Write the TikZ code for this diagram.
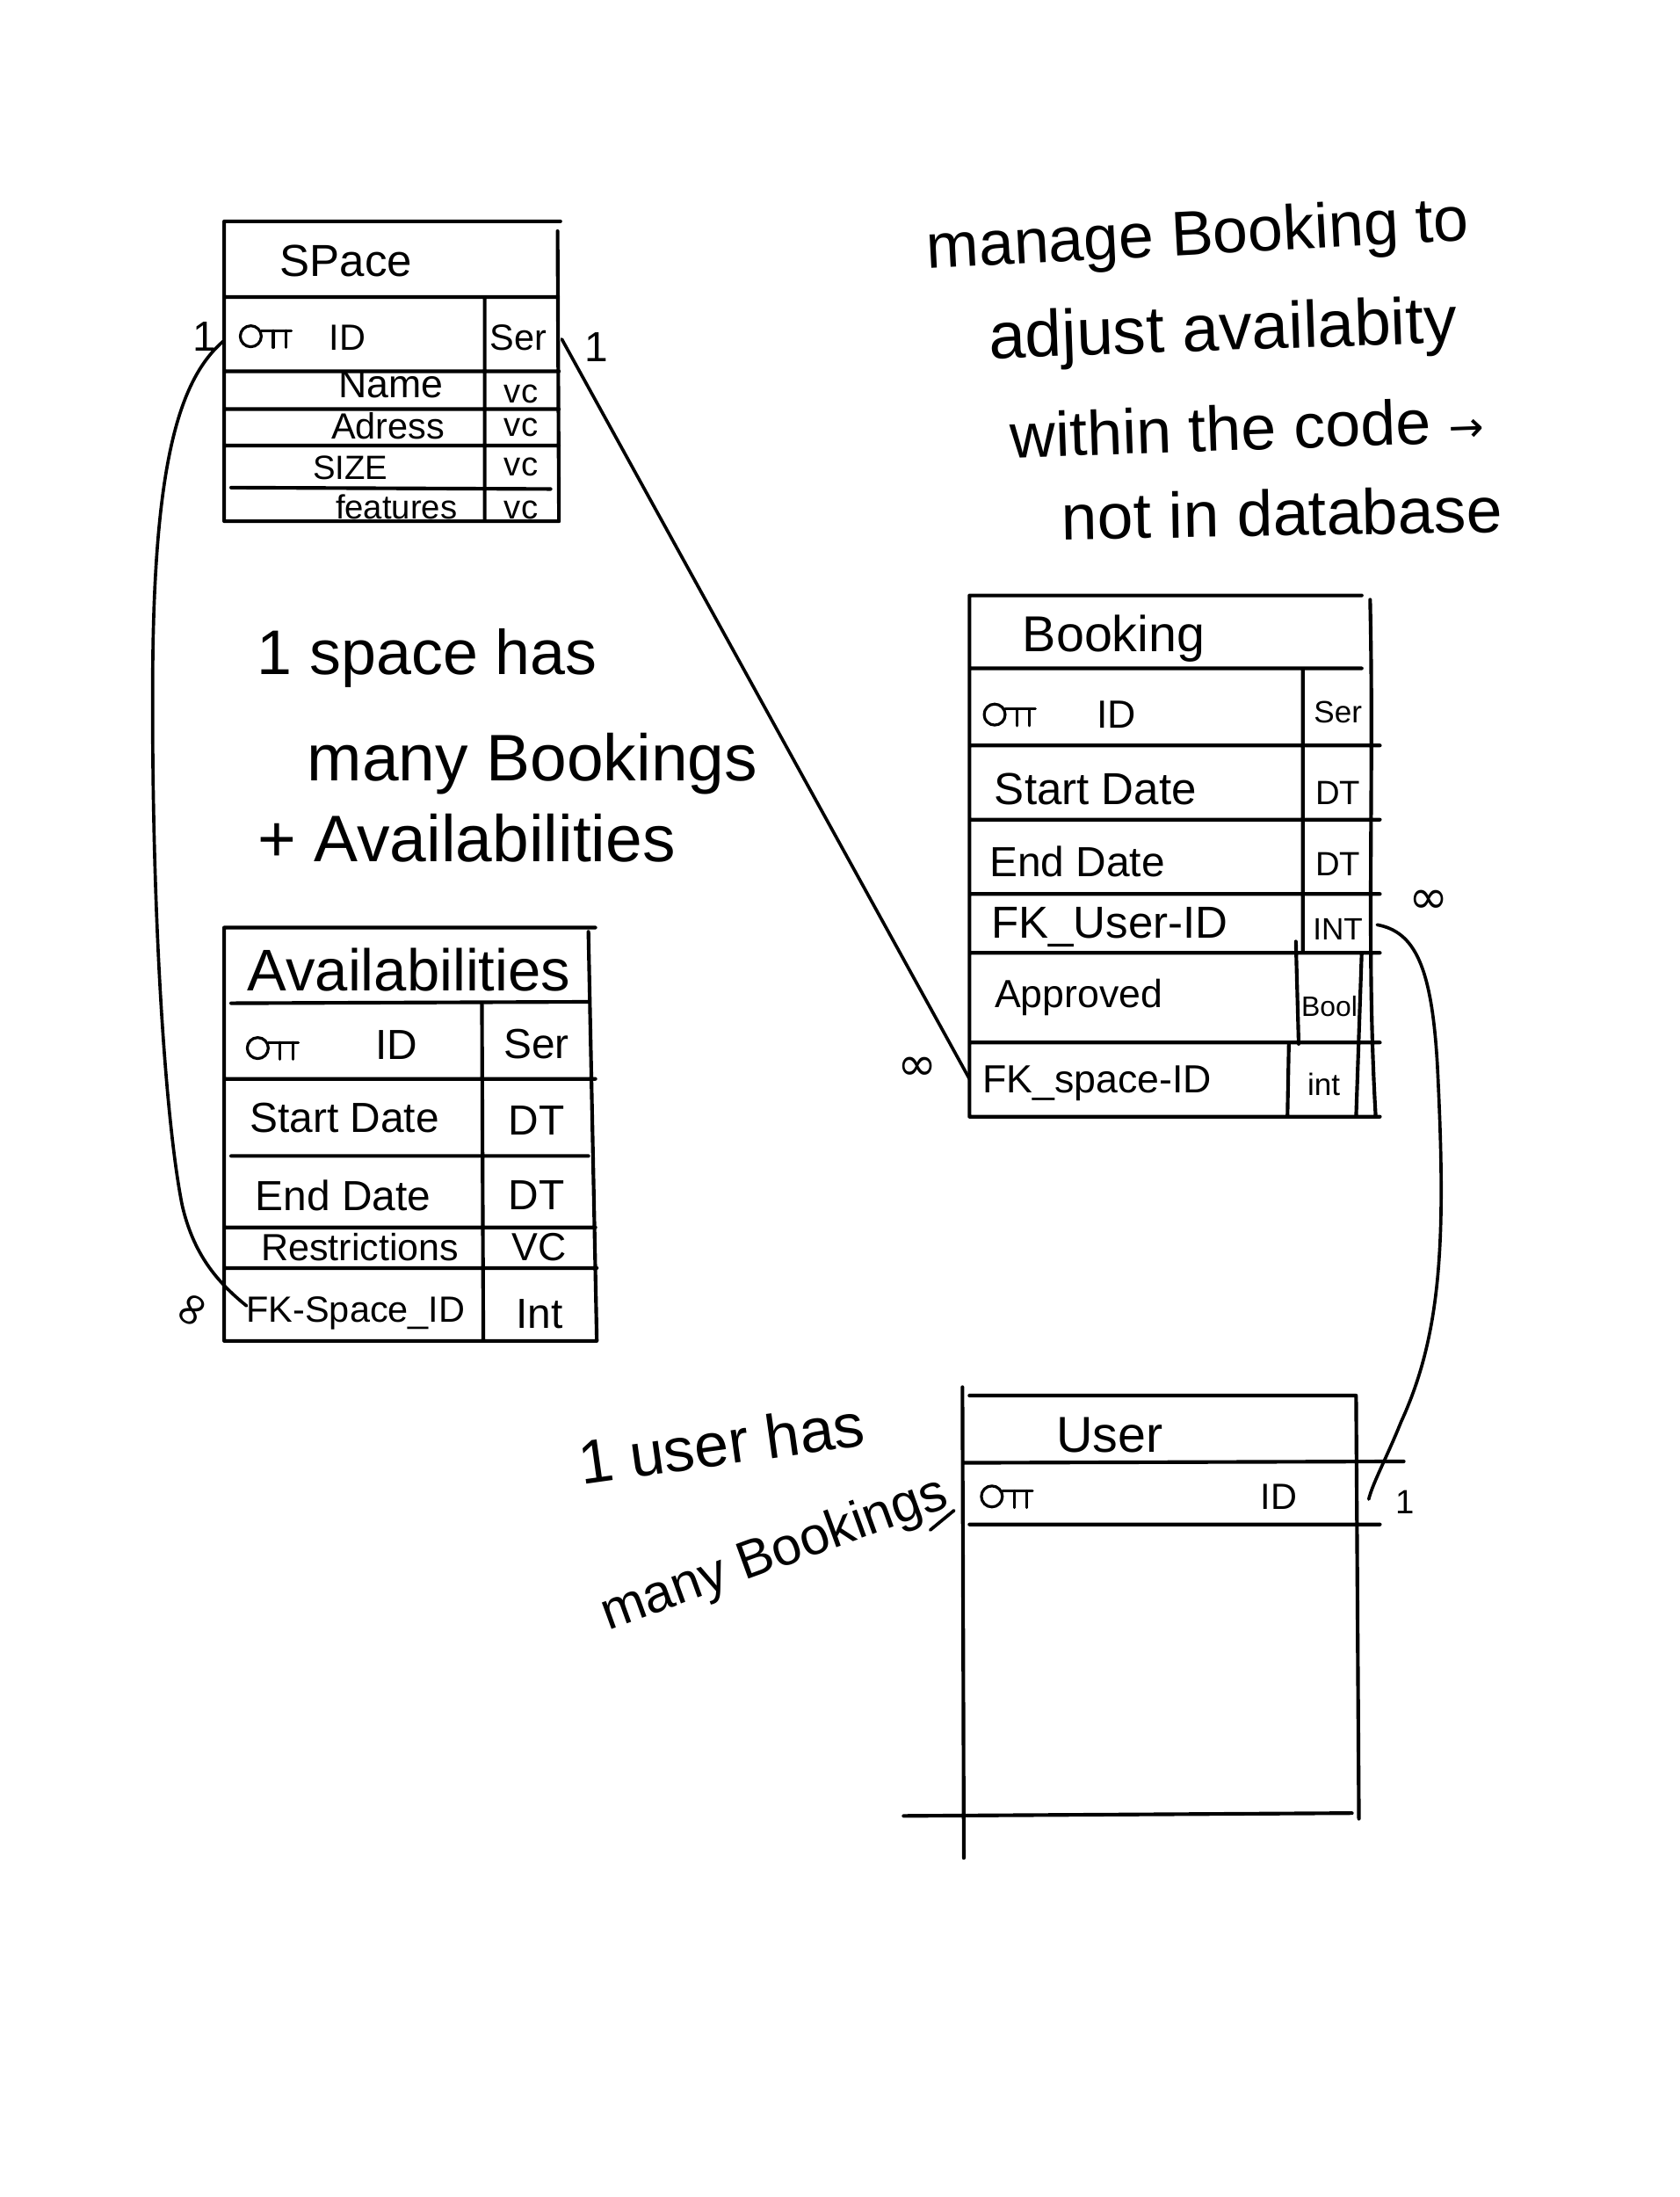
\documentclass[tikz,border=0pt]{standalone}
\usepackage{fontspec}
\setmainfont{Liberation Sans}
\newfontfamily\symfont{DejaVu Sans}
\newcommand\hfs[1]{\fontsize{#1}{#1}\selectfont}
\begin{document}
\begin{tikzpicture}[x=1pt,y=-1pt,line width=2.4pt,line cap=round,line join=round,
  grid/.style={line width=2.6pt},
  conn/.style={line width=2.3pt},
  txt/.style={inner sep=0pt,anchor=center},
  keyicon/.pic={\draw[line width=2pt] (0,0) circle[radius=7.5];
    \draw[line width=2pt] (7.5,-4)--(29,-4) (16,-4)--(16,8) (25,-4)--(25,8);}]
\useasboundingbox (0,0) rectangle (1199,1568);
\fill[white] (0,0) rectangle (1199,1568);

% ---------------- Space table ----------------
\draw[grid] (160,158)--(400,158) (160,158)--(160,372) (398,165)--(399,372)
  (160,212)--(398,212) (346,212)--(346,372)
  (160,265)--(399,265) (160,292)--(399,292) (160,318)--(399,318) (160,372)--(399,372)
  (165,348)--(393,349);
\node[txt] (spT) at (247,186) {\hfs{32}SPace};
\pic at (179,240) {keyicon};
\node[txt] (spID) at (248,241) {\hfs{26}ID};
\node[txt] (spIDt) at (370,241) {\hfs{26}Ser};
\node[txt] (spN) at (279,274) {\hfs{28}Name};
\node[txt] (spNt) at (372,281) {\hfs{24}vc};
\node[txt] (spA) at (277,304) {\hfs{26}Adress};
\node[txt] (spAt) at (372,305) {\hfs{24}vc};
\node[txt] (spS) at (250,334) {\hfs{24}SIZE};
\node[txt] (spSt) at (372,333) {\hfs{24}vc};
\node[txt] (spF) at (283,362) {\hfs{24}features};
\node[txt] (spFt) at (372,364) {\hfs{24}vc};
\node[txt] (l1) at (146,240) {\hfs{30}1};
\node[txt] (l2) at (426,248) {\hfs{30}1};
\coordinate (spL) at (160,243);
\coordinate (spR) at (401,242);

% ---------------- Booking table ----------------
\draw[grid] (692,425)--(972,425) (692,425)--(692,797)
  (978,428) .. controls (981,560) and (975,680) .. (982,797)
  (692,477)--(972,477) (930,477)--(930,680)
  (692,532)--(985,532) (692,585)--(985,585) (692,638)--(985,638)
  (692,680)--(985,680) (692,744)--(985,744) (692,797)--(985,797)
  (925,672)--(927,745) (920,745)--(919,797) (972,680)--(968,797);
\node[txt] (bkT) at (795,456) {\hfs{36}Booking};
\pic at (710,510) {keyicon};
\node[txt] (bkID) at (797,510) {\hfs{28}ID};
\node[txt] (bkIDt) at (955,508) {\hfs{22}Ser};
\node[txt] (bkS) at (782,563) {\hfs{32}Start Date};
\node[txt] (bkSt) at (955,566) {\hfs{24}DT};
\node[txt] (bkE) at (769,615) {\hfs{30}End Date};
\node[txt] (bkEt) at (955,617) {\hfs{24}DT};
\node[txt] (bkU) at (792,662) {\hfs{32}FK\_User-ID};
\node[txt] (bkUt) at (955,663) {\hfs{22}INT};
\node[txt] (bkAp) at (770,712) {\hfs{28}Approved};
\node[txt] (bkApt) at (949,718) {\hfs{20}Bool};
\node[txt] (bkSp) at (783,773) {\hfs{28}FK\_space-ID};
\node[txt] (bkSpt) at (945,774) {\hfs{22}int};
\node[txt] (l3) at (655,763) {\symfont\hfs{34}∞};
\node[txt] (l4) at (1020,644) {\symfont\hfs{34}∞};
\coordinate (bkL) at (692,770);
\coordinate (bkR) at (983,660);

% ---------------- Availabilities table ----------------
\draw[grid] (160,662)--(425,662) (160,662)--(160,957) (420,665)--(426,957)
  (165,716)--(420,715) (344,717)--(345,957)
  (160,770)--(425,770) (165,825)--(420,825) (160,876)--(425,876)
  (160,905)--(426,905) (160,957)--(426,957);
\node[txt] (avT) at (292,692) {\hfs{42}Availabilities};
\pic at (184,748) {keyicon};
\node[txt] (avID) at (283,746) {\hfs{30}ID};
\node[txt] (avIDt) at (383,745) {\hfs{30}Ser};
\node[txt] (avS) at (246,798) {\hfs{30}Start Date};
\node[txt] (avSt) at (383,800) {\hfs{30}DT};
\node[txt] (avE) at (245,853) {\hfs{30}End Date};
\node[txt] (avEt) at (383,853) {\hfs{30}DT};
\node[txt] (avR) at (257,890) {\hfs{27}Restrictions};
\node[txt] (avRt) at (385,890) {\hfs{28}VC};
\node[txt] (avF) at (254,937) {\hfs{26}FK-Space\_ID};
\node[txt] (avFt) at (385,938) {\hfs{30}Int};
\node[txt,rotate=60] (l5) at (139,936) {\symfont\hfs{34}∞};
\coordinate (avL) at (176,932);

% ---------------- User table ----------------
\draw[grid] (692,996)--(968,996) (968,997)--(970,1298) (687,990)--(688,1326)
  (688,1044)--(1002,1043) (692,1088)--(985,1088) (645,1296)--(965,1294);
\node[txt] (usT) at (792,1024) {\hfs{36}User};
\pic at (708,1068) {keyicon};
\node[txt] (usID) at (913,1068) {\hfs{26}ID};
\node[txt] (l6) at (1003,1072) {\hfs{24}1};
\coordinate (usR) at (977,1070);

% ---------------- connectors ----------------
\draw[conn] (spL) .. controls (128,270) and (110,330) .. (109,480)
  .. controls (108,650) and (118,800) .. (130,860)
  .. controls (138,895) and (155,915) .. (avL);
\draw[conn] (spR) -- (bkL);
\draw[conn] (bkR) .. controls (1010,665) and (1022,690) .. (1026,760)
  .. controls (1032,880) and (1030,950) .. (1000,1015)
  .. controls (990,1040) and (980,1058) .. (usR);

% ---------------- notes ----------------
\node[txt,rotate=3] (n1) at (855,170) {\hfs{45}manage Booking to};
\node[txt,rotate=2] (n2) at (873,238) {\hfs{47}adjust availabity};
\node[txt,rotate=2] (n3) at (890,305) {\hfs{45}within the code \symfont\hfs{30}→};
\node[txt,rotate=1] (n4) at (915,366) {\hfs{46}not in database};
\node[txt] (n5) at (305,470) {\hfs{45}1 space has};
\node[txt] (n6) at (380,545) {\hfs{47}many Bookings};
\node[txt] (n7) at (333,598) {\hfs{47}+ Availabilities};
\node[txt,rotate=8] (n8) at (515,1030) {\hfs{44}1 user has};
\node[txt,rotate=20] (n9) at (553,1110) {\hfs{38}many Bookings};
\coordinate (arA) at (664,1092);
\coordinate (arB) at (681,1078);
\draw[conn] (arA) -- (arB);
\end{tikzpicture}
\end{document}
